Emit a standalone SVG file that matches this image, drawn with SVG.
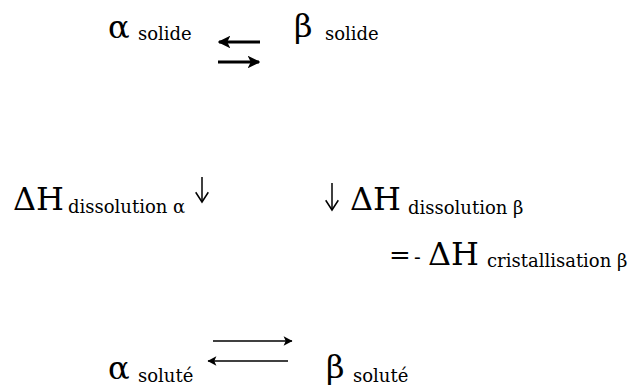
<svg xmlns="http://www.w3.org/2000/svg" width="636" height="387" viewBox="0 0 636 387">
<style>
text{font-family:'DejaVu Serif',serif;fill:#000}
.m{font-size:32px}
.s{font-size:18px}
.thick{stroke:#000;stroke-width:3;fill:none}
.thin{stroke:#000;stroke-width:1.5;fill:none}
</style>
<defs>
<marker id="hd" viewBox="0 0 10 10" refX="9" refY="5" markerWidth="4.2" markerHeight="4.2" orient="auto-start-reverse" markerUnits="strokeWidth">
<path d="M0,0 L10,5 L0,10 L2.5,5 z" fill="#000"/>
</marker>
<marker id="hv" viewBox="0 0 10 10" refX="9" refY="5" markerWidth="10" markerHeight="10" orient="auto-start-reverse" markerUnits="strokeWidth">
<path d="M2.5,0.8 L9,5 L2.5,9.2" fill="none" stroke="#000" stroke-width="1"/>
</marker>
<marker id="hh" viewBox="0 0 10 10" refX="9" refY="5" markerWidth="7" markerHeight="7" orient="auto-start-reverse" markerUnits="strokeWidth">
<path d="M1,0.5 L9.5,5 L1,9.5 L3,5 z" fill="#000"/>
</marker>
</defs>
<rect width="636" height="387" fill="#fff"/>
<g id="alpha-solide"><text class="m" x="108" y="38">α</text><text class="s" x="138" y="40">solide</text></g>
<g id="beta-solide"><text class="m" x="294" y="37">β</text><text class="s" x="325" y="40">solide</text></g>
<g id="dH-diss-alpha"><text class="m" x="13" y="210">ΔH</text><text class="s" x="68" y="213">dissolution α</text></g>
<g id="dH-diss-beta"><text class="m" x="350" y="210">ΔH</text><text class="s" x="408" y="214">dissolution β</text></g>
<g id="dH-crist-beta"><text x="389" y="264" font-size="26">=<tspan x="414" font-size="20">-</tspan></text><text class="m" x="428" y="265">ΔH</text><text class="s" x="487" y="267">cristallisation β</text></g>
<g id="alpha-solute"><text class="m" x="108" y="379">α</text><text class="s" x="138" y="382">soluté</text></g>
<g id="beta-solute"><text class="m" x="326" y="378">β</text><text class="s" x="353" y="382">soluté</text></g>
<g id="connectors">
<line class="thick" x1="260" y1="42" x2="219" y2="42" marker-end="url(#hd)"/>
<line class="thick" x1="218" y1="62" x2="259" y2="62" marker-end="url(#hd)"/>
<line class="thin" x1="202" y1="177" x2="202" y2="202" marker-end="url(#hv)"/>
<line class="thin" x1="332" y1="183" x2="332" y2="210" marker-end="url(#hv)"/>
<line class="thin" x1="213" y1="341" x2="292" y2="341" marker-end="url(#hh)"/>
<line class="thin" x1="288" y1="361" x2="208" y2="361" marker-end="url(#hh)"/>
</g>
</svg>
